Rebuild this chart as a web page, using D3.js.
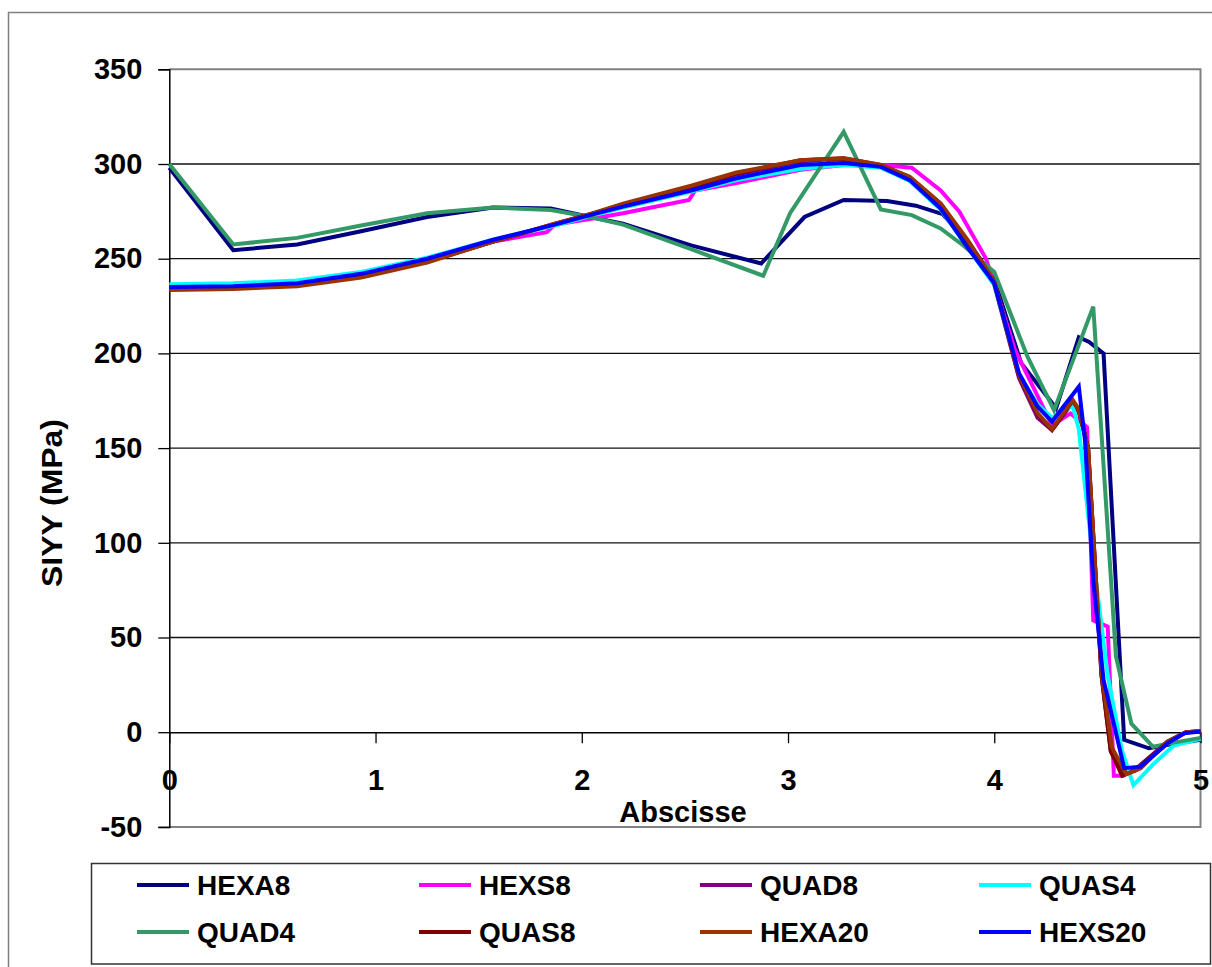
<!DOCTYPE html>
<html>
<head>
<meta charset="utf-8">
<script src="https://cdn.jsdelivr.net/npm/d3@7"></script>
<style>
  body { margin: 0; background: #fff; }
  text { font-family: "Liberation Sans", Arial, sans-serif; font-weight: bold; fill: #000; }
</style>
</head>
<body>
<div id="chart"></div>
<script>
// series, in Excel drawing order (later ones on top)
const seriesNames = ["HEXA8", "HEXS8", "QUAD8", "QUAS4", "QUAD4", "QUAS8", "HEXA20", "HEXS20"];

const hexa8X = [0, 0.31, 0.62, 0.93, 1.25, 1.57, 1.85, 2.04, 2.2, 2.53, 2.87, 3.08, 3.27, 3.48, 3.62, 3.75, 3.88, 4.0, 4.13, 4.30, 4.41, 4.46, 4.53, 4.63, 4.75, 4.85, 5.0];
const hexa8Y = [298, 254.5, 257.5, 264.5, 272, 277, 276.5, 272, 268.5, 257, 247.5, 272, 281, 280.5, 278, 273.5, 258, 239, 195, 171, 208.5, 206, 200, -4, -8.5, -6.5, -4];

const hexs8X = [0, 0.31, 0.62, 0.93, 1.25, 1.57, 1.83, 1.87, 2.04, 2.2, 2.52, 2.55, 2.75, 3.06, 3.27, 3.45, 3.6, 3.74, 3.83, 3.96, 4.1, 4.28, 4.37, 4.45, 4.48, 4.55, 4.58, 4.625, 4.71, 4.84, 4.93, 5.0];
const hexs8Y = [234, 234.5, 236, 241, 249.5, 259, 264, 268, 271, 274, 281, 286, 290, 297, 299.5, 299.5, 298, 286, 275, 250, 202, 162, 168.3, 161, 59, 55.7, -23, -23, -17.5, -6, 0, 0.3];

const quad8X = [0, 0.31, 0.62, 0.93, 1.25, 1.57, 1.87, 2.04, 2.2, 2.53, 2.75, 3.06, 3.27, 3.45, 3.59, 3.74, 3.87, 4.0, 4.12, 4.21, 4.28, 4.38, 4.41, 4.455, 4.52, 4.565, 4.62, 4.69, 4.84, 4.93, 5.0];
const quad8Y = [234, 234.5, 236, 240.5, 248.5, 259, 268, 273, 278, 287.5, 294.5, 301.5, 302.5, 299, 292.5, 278.5, 259, 236.5, 187, 166, 159.5, 174, 169, 150, 30, -10, -22, -19, -5, 0, 0.5];

const quas4X = [0, 0.31, 0.62, 0.93, 1.25, 1.57, 1.87, 2.04, 2.2, 2.53, 2.75, 3.06, 3.27, 3.45, 3.59, 3.74, 3.87, 4.0, 4.12, 4.21, 4.28, 4.38, 4.41, 4.47, 4.55, 4.62, 4.675, 4.77, 4.87, 5.0];
const quas4Y = [236.5, 237, 238.5, 243, 250.5, 260, 267.5, 272.5, 277, 285.5, 291.5, 297.5, 299.5, 298, 291, 276, 256, 236, 189, 173, 166, 172.5, 160, 100, 30, -10, -28, -17, -7, -3.5];

const quad4X = [0, 0.31, 0.62, 0.93, 1.25, 1.57, 1.85, 2.04, 2.2, 2.53, 2.88, 3.01, 3.27, 3.45, 3.6, 3.74, 3.85, 4.0, 4.16, 4.29, 4.48, 4.59, 4.665, 4.77, 4.87, 5.0];
const quad4Y = [300, 257.5, 261, 267.5, 274, 277, 275.7, 272, 268, 255, 241, 274, 317, 276, 273, 266, 257, 243, 198.5, 170, 224.7, 40, 4.5, -7.7, -5.5, -3];

const quas8X = [0, 0.31, 0.62, 0.93, 1.25, 1.57, 1.87, 2.04, 2.2, 2.53, 2.75, 3.06, 3.27, 3.45, 3.59, 3.74, 3.87, 4.0, 4.12, 4.21, 4.28, 4.38, 4.41, 4.455, 4.52, 4.565, 4.62, 4.69, 4.84, 4.93, 5.0];
const quas8Y = [234, 234.5, 236, 240.5, 248.5, 259, 268.5, 273.5, 278.5, 288, 295, 302, 303, 299.5, 293, 279, 259, 237, 188, 168, 159.6, 175, 170, 150, 30, -10, -23, -20, -5, 0, 0.5];

const hexa20X = [0, 0.31, 0.62, 0.93, 1.25, 1.57, 1.87, 2.04, 2.2, 2.53, 2.75, 3.06, 3.27, 3.45, 3.59, 3.74, 3.87, 4.0, 4.12, 4.21, 4.28, 4.38, 4.41, 4.455, 4.52, 4.57, 4.64, 4.71, 4.84, 4.93, 5.0];
const hexa20Y = [233.5, 234, 235.5, 240, 248, 259, 268.5, 273.5, 279, 288.5, 295.5, 302, 303, 299.5, 293.3, 279.2, 260, 238, 188.5, 168.5, 160, 175.5, 170.5, 150, 32, -8, -22, -19, -5, 0, 0.5];

const hexs20X = [0, 0.31, 0.62, 0.93, 1.25, 1.57, 1.87, 2.04, 2.2, 2.53, 2.75, 3.06, 3.27, 3.45, 3.59, 3.74, 3.87, 4.0, 4.12, 4.21, 4.28, 4.41, 4.44, 4.48, 4.53, 4.63, 4.71, 4.84, 4.92, 5.0];
const hexs20Y = [235, 235.5, 237, 242, 250, 260, 268, 273, 277.5, 286, 292.5, 299.5, 300.5, 298.5, 291.5, 276.5, 256, 237, 189.5, 172, 164, 182.5, 154, 80, 27.6, -19, -18.2, -5.9, -0.6, 0.3];

const xTicks = [0, 1, 2, 3, 4, 5];
const yTicks = [-50, 0, 50, 100, 150, 200, 250, 300, 350];

const seriesX = [hexa8X, hexs8X, quad8X, quas4X, quad4X, quas8X, hexa20X, hexs20X];
const seriesY = [hexa8Y, hexs8Y, quad8Y, quas4Y, quad4Y, quas8Y, hexa20Y, hexs20Y];
const colors = ["#000080", "#ff00ff", "#800080", "#00ffff", "#339966", "#800000", "#993300", "#0000ff"];

const series = seriesNames.map((name, i) => ({
    name: name,
    color: colors[i],
    points: seriesX[i].map((x, j) => ({ x: x, y: seriesY[i][j] }))
}));

const W = 1212, H = 967;
const margin = { top: 69.3, left: 169.3 },
      width = 1031.2,
      height = 757.6;

const svg = d3.select("#chart")
    .append("svg")
    .attr("width", W)
    .attr("height", H);

// outer chart border
svg.append("rect")
    .attr("x", 8.5).attr("y", 12.5)
    .attr("width", W + 20).attr("height", H + 20)
    .attr("fill", "#fff")
    .attr("stroke", "#808080")
    .attr("stroke-width", 1.5);

const g = svg.append("g")
    .attr("transform", `translate(${margin.left},${margin.top})`);

const xScale = d3.scaleLinear().domain([0, 5]).range([0, width]);
const yScale = d3.scaleLinear().domain([-50, 350]).range([height, 0]);

// gridlines
g.append("g")
    .selectAll("line")
    .data(yTicks.filter(d => d !== 0 && d !== 350 && d !== -50))
    .enter()
    .append("line")
    .attr("x1", 0).attr("x2", width)
    .attr("y1", d => yScale(d)).attr("y2", d => yScale(d))
    .attr("stroke", "#111")
    .attr("stroke-width", 1.3);

// plot area border (top, right, bottom)
g.append("path")
    .attr("d", `M0,${yScale(350)}H${width}V${yScale(-50)}H0`)
    .attr("fill", "none")
    .attr("stroke", "#808080")
    .attr("stroke-width", 2);

// Y axis
const yAxis = g.append("g")
    .call(d3.axisLeft(yScale).tickValues(yTicks).tickSize(11).tickPadding(16)
        .tickFormat(d => String(d)));
yAxis.select(".domain").attr("stroke", "#000").attr("stroke-width", 1.5);
yAxis.selectAll(".tick line").attr("stroke", "#000").attr("stroke-width", 1.3);
yAxis.selectAll(".tick text")
    .style("font-size", "29px")
    .style("font-family", "Liberation Sans, Arial, sans-serif")
    .style("font-weight", "bold")
    .attr("fill", "#000");

// X axis along y = 0
const xAxis = g.append("g")
    .attr("transform", `translate(0,${yScale(0)})`)
    .call(d3.axisBottom(xScale).tickValues(xTicks).tickSize(11).tickSizeOuter(0).tickPadding(26)
        .tickFormat(d3.format("d")));
xAxis.select(".domain").attr("stroke", "#000").attr("stroke-width", 1.5);
xAxis.selectAll(".tick line").attr("stroke", "#000").attr("stroke-width", 1.3);
xAxis.selectAll(".tick text")
    .style("font-size", "29px")
    .style("font-family", "Liberation Sans, Arial, sans-serif")
    .style("font-weight", "bold")
    .attr("fill", "#000");

// lines
const line = d3.line()
    .x(d => xScale(d.x))
    .y(d => yScale(d.y));

g.append("g")
    .selectAll("path")
    .data(series)
    .enter()
    .append("path")
    .attr("d", d => line(d.points))
    .attr("fill", "none")
    .attr("stroke", d => d.color)
    .attr("stroke-width", 4)
    .attr("stroke-linejoin", "miter");

// axis titles
svg.append("text")
    .attr("x", 683)
    .attr("y", 822)
    .attr("text-anchor", "middle")
    .style("font-size", "29px")
    .text("Abscisse");

svg.append("text")
    .attr("transform", "translate(62,503) rotate(-90)")
    .attr("text-anchor", "middle")
    .attr("textLength", 168)
    .attr("lengthAdjust", "spacingAndGlyphs")
    .style("font-size", "30px")
    .text("SIYY (MPa)");

// legend
const legend = svg.append("g");
legend.append("rect")
    .attr("x", 91.5).attr("y", 863.5)
    .attr("width", 1119).attr("height", 100.5)
    .attr("fill", "#fff")
    .attr("stroke", "#333")
    .attr("stroke-width", 1.5);

const colX = [137, 419, 700, 979];
const rowY = [885, 932];

const items = legend.selectAll(".item")
    .data(series)
    .enter()
    .append("g")
    .attr("transform", (d, i) => `translate(${colX[i % 4]},${rowY[Math.floor(i / 4)]})`);

items.append("line")
    .attr("x1", 0).attr("x2", 52)
    .attr("y1", 0).attr("y2", 0)
    .attr("stroke", d => d.color)
    .attr("stroke-width", 4);

items.append("text")
    .attr("x", 60)
    .attr("y", 10)
    .style("font-size", "28px")
    .text(d => d.name);
</script>
</body>
</html>
